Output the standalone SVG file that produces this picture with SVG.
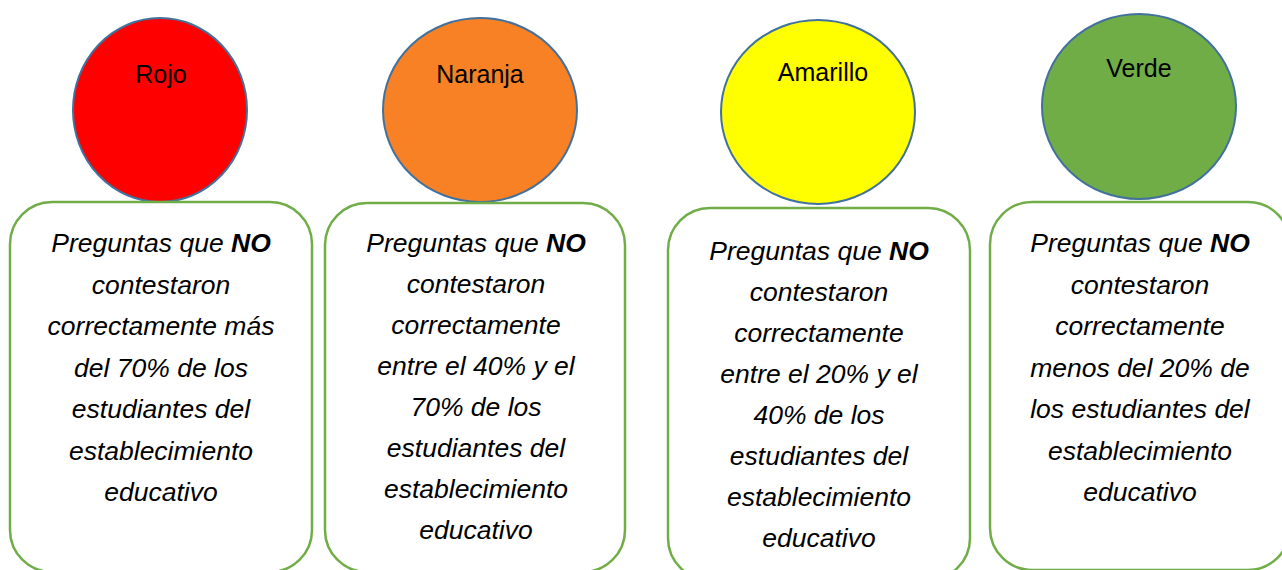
<svg xmlns="http://www.w3.org/2000/svg" width="1282" height="570" viewBox="0 0 1282 570">
<style>
.circ{stroke:#41719C;stroke-width:2}
.box{fill:#FFFFFF;stroke:#70AD47;stroke-width:2.5}
.lbl{font-family:"Liberation Sans",Arial,sans-serif;font-size:25px;fill:#000;text-anchor:middle}
.txt{font-family:"Liberation Sans",Arial,sans-serif;font-size:26.5px;font-style:italic;fill:#000;text-anchor:middle}
.b{font-weight:bold}
</style>
<rect width="1282" height="570" fill="#FFFFFF"/>
<g id="connectors"></g>
<g id="rojo">
<ellipse class="circ" cx="160" cy="110" rx="87" ry="92" fill="#FF0000"/>
<text class="lbl" x="161" y="83">Rojo</text>
</g>
<g id="box-rojo">
<rect class="box" x="10" y="202" width="302" height="370" rx="42" ry="42"/>
<text class="txt" x="161"><tspan x="161" y="252">Preguntas que <tspan class="b">NO</tspan></tspan><tspan x="161" y="293.5">contestaron</tspan><tspan x="161" y="335">correctamente más</tspan><tspan x="161" y="376.5">del 70% de los</tspan><tspan x="161" y="418">estudiantes del</tspan><tspan x="161" y="459.5">establecimiento</tspan><tspan x="161" y="501">educativo</tspan></text>
</g>
<g id="naranja">
<ellipse class="circ" cx="480" cy="110" rx="97" ry="92" fill="#F88125"/>
<text class="lbl" x="480" y="83">Naranja</text>
</g>
<g id="box-naranja">
<rect class="box" x="325" y="203" width="300" height="369" rx="42" ry="42"/>
<text class="txt" x="476"><tspan x="476" y="252">Preguntas que <tspan class="b">NO</tspan></tspan><tspan x="476" y="293">contestaron</tspan><tspan x="476" y="334">correctamente</tspan><tspan x="476" y="375">entre el 40% y el</tspan><tspan x="476" y="416">70% de los</tspan><tspan x="476" y="457">estudiantes del</tspan><tspan x="476" y="498">establecimiento</tspan><tspan x="476" y="539">educativo</tspan></text>
</g>
<g id="amarillo">
<ellipse class="circ" cx="818" cy="112" rx="97" ry="92" fill="#FFFF00"/>
<text class="lbl" x="823" y="81">Amarillo</text>
</g>
<g id="box-amarillo">
<rect class="box" x="668" y="208" width="302" height="372" rx="42" ry="42"/>
<text class="txt" x="819"><tspan x="819" y="260">Preguntas que <tspan class="b">NO</tspan></tspan><tspan x="819" y="301">contestaron</tspan><tspan x="819" y="342">correctamente</tspan><tspan x="819" y="383">entre el 20% y el</tspan><tspan x="819" y="424">40% de los</tspan><tspan x="819" y="465">estudiantes del</tspan><tspan x="819" y="506">establecimiento</tspan><tspan x="819" y="547">educativo</tspan></text>
</g>
<g id="verde">
<ellipse class="circ" cx="1139" cy="106.5" rx="97" ry="92.5" fill="#70AD47"/>
<text class="lbl" x="1139" y="77">Verde</text>
</g>
<g id="box-verde">
<rect class="box" x="990" y="202" width="300" height="368" rx="42" ry="42"/>
<text class="txt" x="1140"><tspan x="1140" y="252">Preguntas que <tspan class="b">NO</tspan></tspan><tspan x="1140" y="293.5">contestaron</tspan><tspan x="1140" y="335">correctamente</tspan><tspan x="1140" y="376.5">menos del 20% de</tspan><tspan x="1140" y="418">los estudiantes del</tspan><tspan x="1140" y="459.5">establecimiento</tspan><tspan x="1140" y="501">educativo</tspan></text>
</g>
</svg>
